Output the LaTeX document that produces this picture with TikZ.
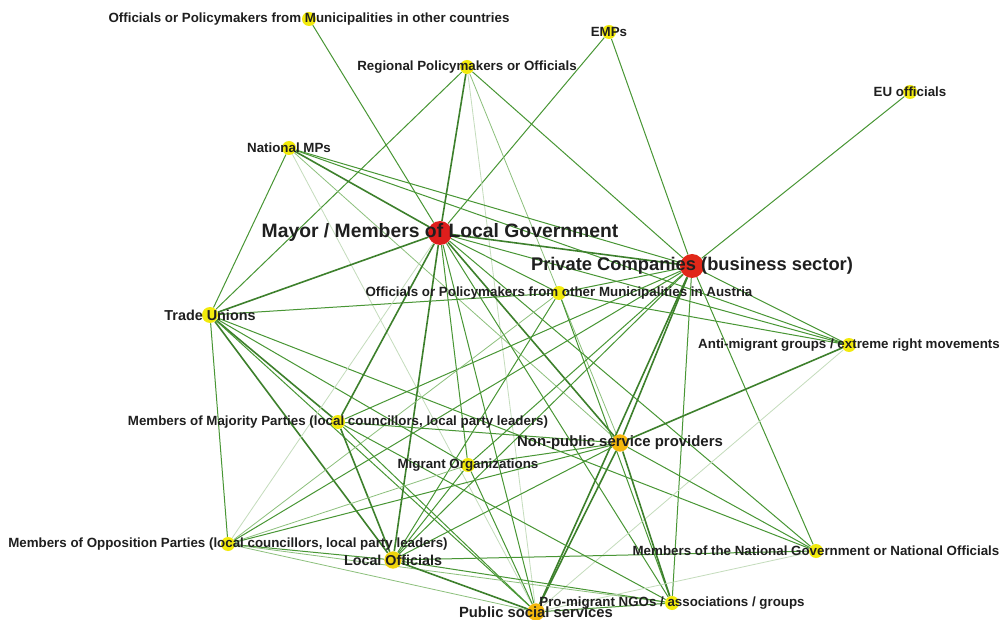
\documentclass[tikz,border=0pt]{standalone}
\usepackage{fontspec}
\setmainfont{Liberation Sans}
\usetikzlibrary{backgrounds}
\definecolor{edgeg}{RGB}{72,150,52}
\definecolor{edgel}{RGB}{140,192,124}
\definecolor{edgef}{RGB}{196,220,188}
\definecolor{nyel}{RGB}{242,234,12}
\definecolor{nred}{RGB}{222,30,28}
\definecolor{norg}{RGB}{245,184,12}
\definecolor{nlo}{RGB}{240,212,12}
\begin{document}
\begin{tikzpicture}[x=0.75pt,y=-0.75pt,
  dot/.style={circle,fill=nyel,inner sep=0pt,minimum size=10.5pt},
  bigdot/.style={circle,fill=nred,inner sep=0pt,minimum size=18pt},
  middot/.style={circle,fill=norg,inner sep=0pt,minimum size=13pt},
  lab/.style={inner sep=0pt,text=black!88,font=\bfseries\fontsize{10}{12}\selectfont},
  labm/.style={lab,font=\bfseries\fontsize{11}{13}\selectfont},
  labb/.style={lab,font=\bfseries\fontsize{14.5}{17}\selectfont},
  e/.style={draw=edgeg,line width=0.75pt},
  es/.style={draw=edgeg!85!black,line width=1.2pt},
  el/.style={draw=edgel,line width=0.6pt},
  ef/.style={draw=edgef,line width=0.6pt}]
\useasboundingbox (0,0) rectangle (1003,620);

% actors
\node[dot] (om) at (309,19) {};
\node[dot] (emp) at (609,32) {};
\node[dot] (reg) at (467,67) {};
\node[dot] (eu) at (910,92) {};
\node[dot] (nmp) at (289,148) {};
\node[bigdot] (may) at (440,233) {};
\node[bigdot,fill=nred!90!orange] (pc) at (692,266) {};
\node[dot] (oa) at (559,293) {};
\node[dot,minimum size=12pt] (tu) at (210,315) {};
\node[dot] (anti) at (849,345) {};
\node[dot] (maj) at (338,422) {};
\node[middot] (nps) at (620,443) {};
\node[dot] (mig) at (468,465) {};
\node[dot] (opp) at (228,544) {};
\node[middot,fill=nlo] (lo) at (393,560) {};
\node[dot] (ng) at (816,551) {};
\node[dot] (ngo) at (672,603) {};
\node[middot] (pss) at (536,612) {};

% ties between actors
\begin{scope}[on background layer]
\fill[white] (0,0) rectangle (1003,620);
\draw[e] (om) -- (may);
\draw[e] (emp) -- (may);
\draw[e] (emp) -- (pc);
\draw[e] (eu) -- (pc);
\draw[e] (reg) -- (tu);
\draw[es] (reg) -- (may);
\draw[e] (reg) -- (pc);
\draw[el] (reg) -- (nps);
\draw[ef] (reg) -- (pss);
\draw[e] (nmp) -- (tu);
\draw[es] (nmp) -- (may);
\draw[e] (nmp) -- (pc);
\draw[e] (nmp) -- (anti);
\draw[el] (nmp) -- (nps);
\draw[ef] (nmp) -- (pss);
\draw[es] (tu) -- (may);
\draw[e] (tu) -- (oa);
\draw[e] (tu) -- (opp);
\draw[es] (tu) -- (maj);
\draw[es] (tu) -- (lo);
\draw[e] (tu) -- (mig);
\draw[e] (tu) -- (ng);
\draw[e] (tu) -- (pss);
\draw[es] (may) -- (pc);
\draw[e] (may) -- (oa);
\draw[e] (may) -- (anti);
\draw[es] (may) -- (maj);
\draw[ef] (may) -- (opp);
\draw[es] (may) -- (lo);
\draw[e] (may) -- (mig);
\draw[es] (may) -- (nps);
\draw[e] (may) -- (pss);
\draw[e] (may) -- (ngo);
\draw[e] (may) -- (ng);
\draw[e] (pc) -- (anti);
\draw[e] (pc) -- (ng);
\draw[e] (pc) -- (ngo);
\draw[es] (pc) -- (nps);
\draw[es] (pc) -- (pss);
\draw[e] (pc) -- (lo);
\draw[e] (pc) -- (mig);
\draw[e] (pc) -- (opp);
\draw[e] (pc) -- (maj);
\draw[e] (pc) -- (oa);
\draw[e] (oa) -- (anti);
\draw[e] (oa) -- (ngo);
\draw[e] (oa) -- (lo);
\draw[el] (oa) -- (opp);
\draw[es] (anti) -- (nps);
\draw[ef] (anti) -- (pss);
\draw[e] (maj) -- (nps);
\draw[es] (maj) -- (lo);
\draw[e] (maj) -- (pss);
\draw[e] (maj) -- (ngo);
\draw[e] (nps) -- (ng);
\draw[es] (nps) -- (ngo);
\draw[es] (nps) -- (pss);
\draw[e] (nps) -- (lo);
\draw[e] (nps) -- (mig);
\draw[e] (nps) -- (opp);
\draw[e] (mig) -- (lo);
\draw[e] (mig) -- (pss);
\draw[el] (mig) -- (opp);
\draw[e] (opp) -- (lo);
\draw[el] (opp) -- (pss);
\draw[el] (opp) -- (ngo);
\draw[e] (lo) -- (ng);
\draw[e] (lo) -- (ngo);
\draw[es] (lo) -- (pss);
\draw[ef] (ng) -- (pss);
\draw[e] (pss) -- (ngo);
\end{scope}

% names of the actors
\node[lab] (om-l) at (om) {Officials or Policymakers from Municipalities in other countries};
\node[lab] (emp-l) at (emp) {EMPs};
\node[lab] (reg-l) at (reg) {Regional Policymakers or Officials};
\node[lab] (eu-l) at (eu) {EU officials};
\node[lab] (nmp-l) at (nmp) {National MPs};
\node[labb] (may-l) at (may) {Mayor / Members of Local Government};
\node[lab,font=\bfseries\fontsize{13.75}{16}\selectfont] (pc-l) at (pc) {Private Companies (business sector)};
\node[lab] (oa-l) at (oa) {Officials or Policymakers from other Municipalities in Austria};
\node[labm,font=\bfseries\fontsize{10.8}{13}\selectfont] (tu-l) at (tu) {Trade Unions};
\node[lab] (anti-l) at (anti) {Anti-migrant groups / extreme right movements};
\node[lab] (maj-l) at (maj) {Members of Majority Parties (local councillors, local party leaders)};
\node[labm,font=\bfseries\fontsize{11.2}{13}\selectfont] (nps-l) at (nps) {Non-public service providers};
\node[lab] (mig-l) at (mig) {Migrant Organizations};
\node[lab] (opp-l) at (opp) {Members of Opposition Parties (local councillors, local party leaders)};
\node[labm,font=\bfseries\fontsize{10.75}{13}\selectfont] (lo-l) at (lo) {Local Officials};
\node[lab] (ng-l) at (ng) {Members of the National Government or National Officials};
\node[lab] (ngo-l) at (ngo) {Pro-migrant NGOs / associations / groups};
\node[labm,font=\bfseries\fontsize{11.1}{13}\selectfont] (pss-l) at (pss) {Public social services};
\end{tikzpicture}
\end{document}
